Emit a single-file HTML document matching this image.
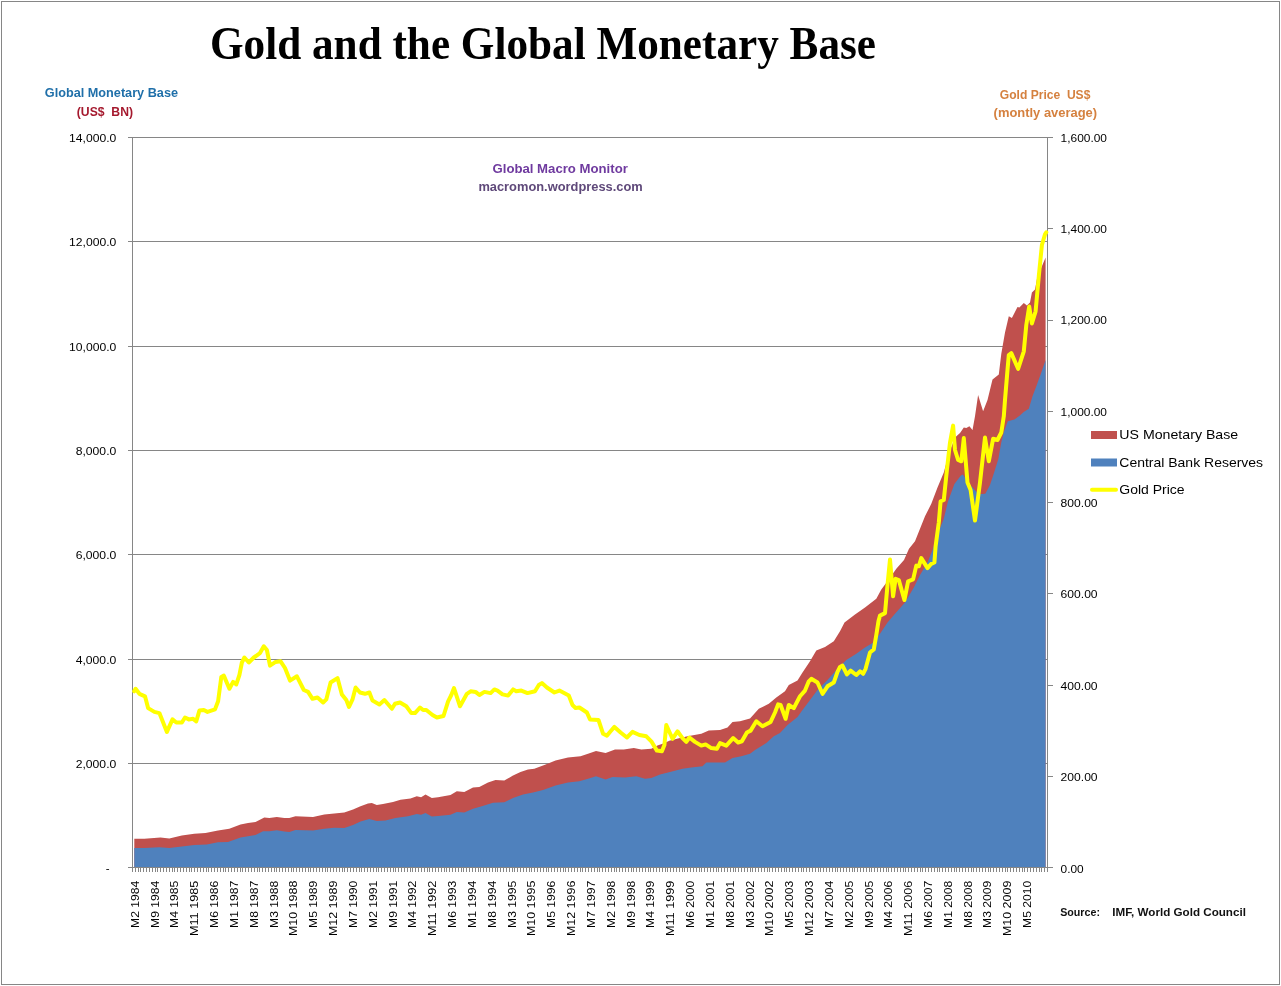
<!DOCTYPE html>
<html lang="en"><head><meta charset="utf-8"><title>Gold and the Global Monetary Base</title>
<style>
html,body{margin:0;padding:0;background:#fff;}
body{width:1281px;height:986px;overflow:hidden;position:relative;}
svg{position:absolute;left:0;top:0;display:block;}
text{font-family:"Liberation Sans",sans-serif;}
.t{font-family:"Liberation Serif",serif;font-weight:bold;}
.b{font-weight:bold;}
.ax{font-size:11.5px;}
.lg{font-size:13.5px;}
</style></head><body>
<svg width="1281" height="986" viewBox="0 0 1281 986">
<rect x="0" y="0" width="1281" height="986" fill="#fff"/>
<rect x="1.5" y="1.5" width="1278" height="983" fill="none" stroke="#868686" stroke-width="1"/>
<text class="t" x="210" y="59.2" font-size="45.5" textLength="666" lengthAdjust="spacingAndGlyphs">Gold and the Global Monetary Base</text>
<g stroke="#868686" stroke-width="1" shape-rendering="crispEdges">
<line x1="132.5" y1="137.5" x2="1047.5" y2="137.5"/>
<line x1="132.5" y1="241.5" x2="1047.5" y2="241.5"/>
<line x1="132.5" y1="346.5" x2="1047.5" y2="346.5"/>
<line x1="132.5" y1="450.5" x2="1047.5" y2="450.5"/>
<line x1="132.5" y1="554.5" x2="1047.5" y2="554.5"/>
<line x1="132.5" y1="659.5" x2="1047.5" y2="659.5"/>
<line x1="132.5" y1="763.5" x2="1047.5" y2="763.5"/>
</g>
<polygon fill="#C0504D" points="134.3,867.5 134.3,838.8 144.3,838.8 160.5,837.5 169.3,838.5 181.8,835.6 194.3,833.8 205.5,833.1 218.0,830.6 229.3,828.8 240.5,824.4 248.0,823.1 255.5,821.9 264.3,817.5 269.3,818.1 276.8,816.9 284.3,818.1 289.3,818.1 295.5,816.3 313.0,816.9 324.3,814.4 334.3,813.5 344.3,812.5 353.0,809.4 360.5,806.3 368.0,803.5 371.8,803.1 376.8,805.0 383.0,804.0 393.0,801.9 400.5,799.8 410.5,798.5 416.8,796.3 421.1,797.3 425.5,794.4 431.8,798.1 438.0,797.3 450.5,795.0 456.8,791.3 464.3,791.9 473.0,787.5 479.3,786.9 488.0,782.5 495.5,780.0 504.3,780.6 513.0,775.6 520.5,771.9 528.0,769.4 534.3,768.8 544.3,765.0 555.5,760.6 568.0,757.5 580.5,756.3 588.0,753.8 596.0,751.0 605.6,753.1 615.0,749.4 623.8,749.4 633.8,748.1 641.3,749.4 651.3,748.8 657.5,745.6 662.5,743.8 670.0,740.6 680.0,738.1 687.5,736.3 701.3,733.8 708.8,730.6 720.0,730.0 727.5,727.5 732.5,721.9 740.0,721.3 750.0,718.4 758.8,708.8 768.8,703.8 776.3,697.5 785.0,691.3 788.8,685.0 797.5,680.6 802.5,672.5 810.0,661.3 816.3,650.6 825.0,646.9 833.8,641.3 840.0,631.3 844.5,622.5 855.0,614.4 865.0,607.5 876.3,598.8 881.3,589.4 887.5,581.3 896.3,568.8 904.0,560.0 909.0,548.8 915.0,541.3 920.0,528.8 925.0,516.3 931.3,503.8 937.5,487.5 943.8,472.5 948.8,453.8 955.0,437.5 960.0,433.0 963.8,427.5 966.3,428.1 969.4,426.3 972.5,430.0 975.0,416.3 978.1,395.0 983.1,411.3 987.5,400.0 992.5,379.4 998.8,374.4 1001.3,353.8 1005.0,332.5 1008.8,316.3 1011.9,318.1 1017.5,306.9 1019.4,307.5 1023.8,303.1 1026.9,305.6 1030.0,302.5 1031.9,292.5 1035.0,289.4 1037.5,276.0 1041.9,266.3 1045.6,257.5 1045.6,867.5"/>
<polygon fill="#4F81BD" points="134.3,867.5 134.3,848.1 144.3,847.9 159.3,847.3 169.3,848.1 181.8,846.5 194.3,845.0 206.8,844.4 218.0,842.3 228.0,841.9 240.5,837.5 248.0,836.3 255.5,835.0 263.0,831.3 269.3,831.3 276.8,830.3 284.3,831.5 289.3,831.9 295.5,830.0 313.0,830.6 324.3,828.8 334.3,827.8 344.3,828.1 353.0,825.0 360.5,821.5 369.3,819.0 376.8,821.0 385.5,820.6 395.5,818.1 408.0,816.3 416.8,814.0 421.1,814.8 425.5,813.1 431.8,816.5 438.0,816.0 450.5,814.8 456.8,811.9 464.3,812.5 473.0,808.8 481.8,806.3 493.0,802.8 504.3,802.3 513.0,798.1 523.0,794.4 533.0,792.5 543.0,790.0 555.5,785.6 568.0,782.5 579.3,781.3 588.0,778.8 596.0,776.3 605.6,779.4 612.5,776.9 625.0,777.5 636.3,776.3 645.0,778.8 651.3,778.1 660.0,774.4 670.0,771.9 682.5,768.8 691.3,767.5 702.5,766.3 706.3,762.5 725.0,762.5 732.5,758.1 741.3,756.3 750.0,753.8 755.0,750.0 766.3,743.1 773.8,736.3 780.0,733.1 787.5,725.0 797.5,716.9 802.5,710.0 810.0,700.0 817.5,690.0 827.5,680.0 837.5,668.8 846.3,660.0 856.3,653.8 865.0,647.5 872.5,643.1 880.0,633.8 887.5,622.5 895.0,613.8 905.0,602.5 913.8,587.5 920.0,575.0 927.5,562.5 932.5,550.0 938.0,533.0 943.8,518.8 947.8,502.0 954.4,484.0 960.9,475.6 962.8,474.6 970.3,484.9 978.7,494.3 985.3,493.8 990.0,484.9 994.6,470.9 998.4,458.7 1001.2,442.8 1004.0,431.5 1007.8,421.2 1014.3,419.4 1019.9,415.6 1023.7,411.9 1028.8,408.8 1032.5,396.3 1036.3,386.3 1041.3,372.5 1045.6,360.0 1045.6,867.5"/>
<g stroke="#868686" stroke-width="1" shape-rendering="crispEdges">
<line x1="132.5" y1="137.5" x2="132.5" y2="867.5"/>
<line x1="1047.5" y1="137.5" x2="1047.5" y2="867.5"/>
<line x1="132.5" y1="867.5" x2="1047.5" y2="867.5"/>
<line x1="127.5" y1="137.5" x2="132.5" y2="137.5"/>
<line x1="127.5" y1="241.5" x2="132.5" y2="241.5"/>
<line x1="127.5" y1="346.5" x2="132.5" y2="346.5"/>
<line x1="127.5" y1="450.5" x2="132.5" y2="450.5"/>
<line x1="127.5" y1="554.5" x2="132.5" y2="554.5"/>
<line x1="127.5" y1="659.5" x2="132.5" y2="659.5"/>
<line x1="127.5" y1="763.5" x2="132.5" y2="763.5"/>
<line x1="127.5" y1="867.5" x2="132.5" y2="867.5"/>
<line x1="1047.5" y1="867.5" x2="1052.5" y2="867.5"/>
<line x1="1047.5" y1="776.5" x2="1052.5" y2="776.5"/>
<line x1="1047.5" y1="685.5" x2="1052.5" y2="685.5"/>
<line x1="1047.5" y1="593.5" x2="1052.5" y2="593.5"/>
<line x1="1047.5" y1="502.5" x2="1052.5" y2="502.5"/>
<line x1="1047.5" y1="411.5" x2="1052.5" y2="411.5"/>
<line x1="1047.5" y1="320.5" x2="1052.5" y2="320.5"/>
<line x1="1047.5" y1="228.5" x2="1052.5" y2="228.5"/>
<line x1="1047.5" y1="137.5" x2="1052.5" y2="137.5"/>
</g>
<path d="M132.5 868V872M135.5 868V872M138.5 868V872M140.5 868V872M143.5 868V872M146.5 868V872M149.5 868V872M152.5 868V872M155.5 868V872M157.5 868V872M160.5 868V872M163.5 868V872M166.5 868V872M169.5 868V872M172.5 868V872M174.5 868V872M177.5 868V872M180.5 868V872M183.5 868V872M186.5 868V872M189.5 868V872M191.5 868V872M194.5 868V872M197.5 868V872M200.5 868V872M203.5 868V872M206.5 868V872M208.5 868V872M211.5 868V872M214.5 868V872M217.5 868V872M220.5 868V872M223.5 868V872M225.5 868V872M228.5 868V872M231.5 868V872M234.5 868V872M237.5 868V872M240.5 868V872M242.5 868V872M245.5 868V872M248.5 868V872M251.5 868V872M254.5 868V872M257.5 868V872M259.5 868V872M262.5 868V872M265.5 868V872M268.5 868V872M271.5 868V872M274.5 868V872M276.5 868V872M279.5 868V872M282.5 868V872M285.5 868V872M288.5 868V872M291.5 868V872M293.5 868V872M296.5 868V872M299.5 868V872M302.5 868V872M305.5 868V872M308.5 868V872M310.5 868V872M313.5 868V872M316.5 868V872M319.5 868V872M322.5 868V872M325.5 868V872M327.5 868V872M330.5 868V872M333.5 868V872M336.5 868V872M339.5 868V872M342.5 868V872M344.5 868V872M347.5 868V872M350.5 868V872M353.5 868V872M356.5 868V872M359.5 868V872M361.5 868V872M364.5 868V872M367.5 868V872M370.5 868V872M373.5 868V872M376.5 868V872M378.5 868V872M381.5 868V872M384.5 868V872M387.5 868V872M390.5 868V872M393.5 868V872M395.5 868V872M398.5 868V872M401.5 868V872M404.5 868V872M407.5 868V872M410.5 868V872M412.5 868V872M415.5 868V872M418.5 868V872M421.5 868V872M424.5 868V872M427.5 868V872M429.5 868V872M432.5 868V872M435.5 868V872M438.5 868V872M441.5 868V872M444.5 868V872M446.5 868V872M449.5 868V872M452.5 868V872M455.5 868V872M458.5 868V872M461.5 868V872M463.5 868V872M466.5 868V872M469.5 868V872M472.5 868V872M475.5 868V872M478.5 868V872M480.5 868V872M483.5 868V872M486.5 868V872M489.5 868V872M492.5 868V872M495.5 868V872M497.5 868V872M500.5 868V872M503.5 868V872M506.5 868V872M509.5 868V872M512.5 868V872M514.5 868V872M517.5 868V872M520.5 868V872M523.5 868V872M526.5 868V872M529.5 868V872M531.5 868V872M534.5 868V872M537.5 868V872M540.5 868V872M543.5 868V872M546.5 868V872M548.5 868V872M551.5 868V872M554.5 868V872M557.5 868V872M560.5 868V872M563.5 868V872M565.5 868V872M568.5 868V872M571.5 868V872M574.5 868V872M577.5 868V872M580.5 868V872M582.5 868V872M585.5 868V872M588.5 868V872M591.5 868V872M594.5 868V872M597.5 868V872M599.5 868V872M602.5 868V872M605.5 868V872M608.5 868V872M611.5 868V872M614.5 868V872M616.5 868V872M619.5 868V872M622.5 868V872M625.5 868V872M628.5 868V872M631.5 868V872M633.5 868V872M636.5 868V872M639.5 868V872M642.5 868V872M645.5 868V872M648.5 868V872M650.5 868V872M653.5 868V872M656.5 868V872M659.5 868V872M662.5 868V872M665.5 868V872M667.5 868V872M670.5 868V872M673.5 868V872M676.5 868V872M679.5 868V872M682.5 868V872M684.5 868V872M687.5 868V872M690.5 868V872M693.5 868V872M696.5 868V872M699.5 868V872M701.5 868V872M704.5 868V872M707.5 868V872M710.5 868V872M713.5 868V872M716.5 868V872M718.5 868V872M721.5 868V872M724.5 868V872M727.5 868V872M730.5 868V872M733.5 868V872M735.5 868V872M738.5 868V872M741.5 868V872M744.5 868V872M747.5 868V872M750.5 868V872M752.5 868V872M755.5 868V872M758.5 868V872M761.5 868V872M764.5 868V872M767.5 868V872M769.5 868V872M772.5 868V872M775.5 868V872M778.5 868V872M781.5 868V872M784.5 868V872M786.5 868V872M789.5 868V872M792.5 868V872M795.5 868V872M798.5 868V872M801.5 868V872M803.5 868V872M806.5 868V872M809.5 868V872M812.5 868V872M815.5 868V872M818.5 868V872M820.5 868V872M823.5 868V872M826.5 868V872M829.5 868V872M832.5 868V872M835.5 868V872M837.5 868V872M840.5 868V872M843.5 868V872M846.5 868V872M849.5 868V872M852.5 868V872M854.5 868V872M857.5 868V872M860.5 868V872M863.5 868V872M866.5 868V872M869.5 868V872M871.5 868V872M874.5 868V872M877.5 868V872M880.5 868V872M883.5 868V872M886.5 868V872M888.5 868V872M891.5 868V872M894.5 868V872M897.5 868V872M900.5 868V872M903.5 868V872M905.5 868V872M908.5 868V872M911.5 868V872M914.5 868V872M917.5 868V872M920.5 868V872M922.5 868V872M925.5 868V872M928.5 868V872M931.5 868V872M934.5 868V872M937.5 868V872M939.5 868V872M942.5 868V872M945.5 868V872M948.5 868V872M951.5 868V872M954.5 868V872M956.5 868V872M959.5 868V872M962.5 868V872M965.5 868V872M968.5 868V872M971.5 868V872M973.5 868V872M976.5 868V872M979.5 868V872M982.5 868V872M985.5 868V872M988.5 868V872M990.5 868V872M993.5 868V872M996.5 868V872M999.5 868V872M1002.5 868V872M1005.5 868V872M1007.5 868V872M1010.5 868V872M1013.5 868V872M1016.5 868V872M1019.5 868V872M1022.5 868V872M1024.5 868V872M1027.5 868V872M1030.5 868V872M1033.5 868V872M1036.5 868V872M1039.5 868V872M1041.5 868V872M1044.5 868V872M1047.5 868V872" stroke="#868686" stroke-width="1" fill="none" shape-rendering="crispEdges"/>
<polyline fill="none" stroke="#FFFF00" stroke-width="4" stroke-linejoin="round" stroke-linecap="round" points="134.2,691.3 135.6,688.8 139.4,693.8 145.0,696.3 148.1,708.1 154.4,711.9 159.4,713.1 166.9,731.9 172.5,719.4 176.3,722.5 181.9,722.5 185.0,717.5 188.8,719.4 193.1,718.8 196.3,721.3 199.4,710.6 203.8,710.0 207.5,711.9 215.0,709.4 218.1,701.3 221.3,676.9 223.8,675.6 229.4,688.8 233.1,681.9 236.3,684.4 239.4,675.0 241.9,662.5 244.4,657.5 248.8,662.5 253.8,657.5 260.0,653.1 263.8,646.3 266.9,650.0 270.0,665.6 275.6,661.9 280.6,661.3 285.0,668.0 290.0,680.6 296.9,676.3 303.8,690.0 308.1,691.9 312.5,698.8 317.5,697.5 323.1,702.5 326.3,699.4 330.6,682.5 337.5,678.1 341.9,694.4 346.3,700.0 349.0,706.9 352.5,699.4 355.6,687.5 360.0,692.5 365.0,693.8 369.4,692.5 372.5,700.6 379.4,704.4 384.4,700.0 391.9,708.8 395.0,703.8 400.0,702.5 406.3,706.3 411.3,713.1 415.0,713.1 420.0,707.5 423.1,710.0 426.3,710.0 432.5,715.0 436.9,717.5 443.5,716.0 448.1,701.3 451.3,695.0 454.0,688.1 460.0,706.3 466.9,693.8 470.6,691.3 475.6,691.9 479.4,695.0 484.4,691.9 490.6,693.1 494.4,689.4 497.5,690.6 502.5,694.4 508.1,695.6 513.1,689.4 516.3,691.3 521.3,690.6 527.5,693.1 535.0,691.3 538.8,685.0 541.9,683.1 546.9,687.5 554.4,692.5 559.4,690.6 568.8,695.6 572.5,705.0 575.6,708.1 579.4,707.5 586.9,712.5 590.0,719.4 598.5,720.0 603.1,733.8 606.9,735.6 610.6,731.3 614.4,726.9 620.6,732.5 626.9,737.5 632.5,731.9 639.4,735.0 646.3,736.3 651.3,741.3 656.9,750.6 661.9,751.3 664.4,745.0 666.3,725.0 672.5,738.8 677.5,731.3 682.5,738.1 686.3,741.9 689.4,737.5 695.0,741.9 701.3,745.6 705.6,744.4 711.3,748.1 716.9,748.8 720.0,743.1 726.3,745.6 733.1,738.1 738.1,742.5 741.9,741.3 746.9,732.5 750.6,730.6 756.3,721.3 762.5,726.3 770.6,721.9 775.0,712.5 778.1,704.4 780.6,705.0 785.6,718.8 788.8,705.0 793.8,708.1 800.0,696.3 805.0,690.6 808.8,681.3 811.3,678.8 817.5,682.5 822.5,693.8 827.5,686.3 833.8,682.5 837.5,671.9 840.0,666.9 842.5,665.6 846.9,674.4 850.6,670.6 856.3,675.0 860.0,671.3 863.1,673.8 865.6,668.8 870.0,652.5 873.8,649.4 876.3,635.0 878.5,621.0 880.0,615.6 885.0,613.1 887.5,585.0 890.0,559.4 893.1,596.3 895.6,578.8 898.8,580.0 904.4,600.0 908.1,581.3 913.1,579.4 916.3,565.6 918.8,566.3 921.3,558.1 927.5,568.1 931.3,563.8 934.4,562.5 935.6,546.3 938.8,522.5 940.6,501.3 943.8,500.0 946.9,470.0 950.0,442.5 953.1,425.6 955.0,450.0 958.1,460.0 961.3,461.3 963.8,438.1 967.5,482.5 970.6,490.0 975.0,520.6 980.0,482.5 985.0,437.5 988.8,461.3 993.1,438.8 997.5,440.0 1001.3,432.5 1003.8,416.3 1005.0,400.0 1007.5,370.0 1008.8,355.0 1011.3,353.1 1018.1,368.8 1023.8,351.3 1026.3,325.0 1029.2,306.5 1031.9,323.5 1035.6,311.3 1038.8,276.3 1041.9,245.0 1045.0,234.4 1046.3,232.3"/>
<g class="ax" text-anchor="end">
<text x="116.3" y="141.8" textLength="47.2" lengthAdjust="spacingAndGlyphs">14,000.0</text>
<text x="116.3" y="245.8" textLength="47.2" lengthAdjust="spacingAndGlyphs">12,000.0</text>
<text x="116.3" y="350.8" textLength="47.2" lengthAdjust="spacingAndGlyphs">10,000.0</text>
<text x="116.3" y="454.8" textLength="40.6" lengthAdjust="spacingAndGlyphs">8,000.0</text>
<text x="116.3" y="558.8" textLength="40.6" lengthAdjust="spacingAndGlyphs">6,000.0</text>
<text x="116.3" y="663.8" textLength="40.6" lengthAdjust="spacingAndGlyphs">4,000.0</text>
<text x="116.3" y="767.8" textLength="40.6" lengthAdjust="spacingAndGlyphs">2,000.0</text>
<text x="109.5" y="871.8">-</text>
</g>
<g class="ax">
<text x="1060.6" y="872.5" textLength="23.1" lengthAdjust="spacingAndGlyphs">0.00</text>
<text x="1060.6" y="781.1" textLength="37.0" lengthAdjust="spacingAndGlyphs">200.00</text>
<text x="1060.6" y="689.8" textLength="37.0" lengthAdjust="spacingAndGlyphs">400.00</text>
<text x="1060.6" y="598.4" textLength="37.0" lengthAdjust="spacingAndGlyphs">600.00</text>
<text x="1060.6" y="507.0" textLength="37.0" lengthAdjust="spacingAndGlyphs">800.00</text>
<text x="1060.6" y="415.6" textLength="46.4" lengthAdjust="spacingAndGlyphs">1,000.00</text>
<text x="1060.6" y="324.2" textLength="46.4" lengthAdjust="spacingAndGlyphs">1,200.00</text>
<text x="1060.6" y="232.9" textLength="46.4" lengthAdjust="spacingAndGlyphs">1,400.00</text>
<text x="1060.6" y="141.5" textLength="46.4" lengthAdjust="spacingAndGlyphs">1,600.00</text>
</g>
<g class="ax" text-anchor="end">
<text transform="translate(138.80 880.7) rotate(-90)" textLength="47.2" lengthAdjust="spacingAndGlyphs">M2 1984</text>
<text transform="translate(158.63 880.7) rotate(-90)" textLength="47.2" lengthAdjust="spacingAndGlyphs">M9 1984</text>
<text transform="translate(178.46 880.7) rotate(-90)" textLength="47.2" lengthAdjust="spacingAndGlyphs">M4 1985</text>
<text transform="translate(198.29 880.7) rotate(-90)" textLength="55.4" lengthAdjust="spacingAndGlyphs">M11 1985</text>
<text transform="translate(218.12 880.7) rotate(-90)" textLength="47.2" lengthAdjust="spacingAndGlyphs">M6 1986</text>
<text transform="translate(237.95 880.7) rotate(-90)" textLength="47.2" lengthAdjust="spacingAndGlyphs">M1 1987</text>
<text transform="translate(257.78 880.7) rotate(-90)" textLength="47.2" lengthAdjust="spacingAndGlyphs">M8 1987</text>
<text transform="translate(277.61 880.7) rotate(-90)" textLength="47.2" lengthAdjust="spacingAndGlyphs">M3 1988</text>
<text transform="translate(297.44 880.7) rotate(-90)" textLength="55.4" lengthAdjust="spacingAndGlyphs">M10 1988</text>
<text transform="translate(317.27 880.7) rotate(-90)" textLength="47.2" lengthAdjust="spacingAndGlyphs">M5 1989</text>
<text transform="translate(337.10 880.7) rotate(-90)" textLength="55.4" lengthAdjust="spacingAndGlyphs">M12 1989</text>
<text transform="translate(356.93 880.7) rotate(-90)" textLength="47.2" lengthAdjust="spacingAndGlyphs">M7 1990</text>
<text transform="translate(376.76 880.7) rotate(-90)" textLength="47.2" lengthAdjust="spacingAndGlyphs">M2 1991</text>
<text transform="translate(396.59 880.7) rotate(-90)" textLength="47.2" lengthAdjust="spacingAndGlyphs">M9 1991</text>
<text transform="translate(416.42 880.7) rotate(-90)" textLength="47.2" lengthAdjust="spacingAndGlyphs">M4 1992</text>
<text transform="translate(436.25 880.7) rotate(-90)" textLength="55.4" lengthAdjust="spacingAndGlyphs">M11 1992</text>
<text transform="translate(456.08 880.7) rotate(-90)" textLength="47.2" lengthAdjust="spacingAndGlyphs">M6 1993</text>
<text transform="translate(475.91 880.7) rotate(-90)" textLength="47.2" lengthAdjust="spacingAndGlyphs">M1 1994</text>
<text transform="translate(495.74 880.7) rotate(-90)" textLength="47.2" lengthAdjust="spacingAndGlyphs">M8 1994</text>
<text transform="translate(515.57 880.7) rotate(-90)" textLength="47.2" lengthAdjust="spacingAndGlyphs">M3 1995</text>
<text transform="translate(535.40 880.7) rotate(-90)" textLength="55.4" lengthAdjust="spacingAndGlyphs">M10 1995</text>
<text transform="translate(555.23 880.7) rotate(-90)" textLength="47.2" lengthAdjust="spacingAndGlyphs">M5 1996</text>
<text transform="translate(575.06 880.7) rotate(-90)" textLength="55.4" lengthAdjust="spacingAndGlyphs">M12 1996</text>
<text transform="translate(594.89 880.7) rotate(-90)" textLength="47.2" lengthAdjust="spacingAndGlyphs">M7 1997</text>
<text transform="translate(614.72 880.7) rotate(-90)" textLength="47.2" lengthAdjust="spacingAndGlyphs">M2 1998</text>
<text transform="translate(634.55 880.7) rotate(-90)" textLength="47.2" lengthAdjust="spacingAndGlyphs">M9 1998</text>
<text transform="translate(654.38 880.7) rotate(-90)" textLength="47.2" lengthAdjust="spacingAndGlyphs">M4 1999</text>
<text transform="translate(674.21 880.7) rotate(-90)" textLength="55.4" lengthAdjust="spacingAndGlyphs">M11 1999</text>
<text transform="translate(694.04 880.7) rotate(-90)" textLength="47.2" lengthAdjust="spacingAndGlyphs">M6 2000</text>
<text transform="translate(713.87 880.7) rotate(-90)" textLength="47.2" lengthAdjust="spacingAndGlyphs">M1 2001</text>
<text transform="translate(733.70 880.7) rotate(-90)" textLength="47.2" lengthAdjust="spacingAndGlyphs">M8 2001</text>
<text transform="translate(753.53 880.7) rotate(-90)" textLength="47.2" lengthAdjust="spacingAndGlyphs">M3 2002</text>
<text transform="translate(773.36 880.7) rotate(-90)" textLength="55.4" lengthAdjust="spacingAndGlyphs">M10 2002</text>
<text transform="translate(793.19 880.7) rotate(-90)" textLength="47.2" lengthAdjust="spacingAndGlyphs">M5 2003</text>
<text transform="translate(813.02 880.7) rotate(-90)" textLength="55.4" lengthAdjust="spacingAndGlyphs">M12 2003</text>
<text transform="translate(832.85 880.7) rotate(-90)" textLength="47.2" lengthAdjust="spacingAndGlyphs">M7 2004</text>
<text transform="translate(852.68 880.7) rotate(-90)" textLength="47.2" lengthAdjust="spacingAndGlyphs">M2 2005</text>
<text transform="translate(872.51 880.7) rotate(-90)" textLength="47.2" lengthAdjust="spacingAndGlyphs">M9 2005</text>
<text transform="translate(892.34 880.7) rotate(-90)" textLength="47.2" lengthAdjust="spacingAndGlyphs">M4 2006</text>
<text transform="translate(912.17 880.7) rotate(-90)" textLength="55.4" lengthAdjust="spacingAndGlyphs">M11 2006</text>
<text transform="translate(932.00 880.7) rotate(-90)" textLength="47.2" lengthAdjust="spacingAndGlyphs">M6 2007</text>
<text transform="translate(951.83 880.7) rotate(-90)" textLength="47.2" lengthAdjust="spacingAndGlyphs">M1 2008</text>
<text transform="translate(971.66 880.7) rotate(-90)" textLength="47.2" lengthAdjust="spacingAndGlyphs">M8 2008</text>
<text transform="translate(991.49 880.7) rotate(-90)" textLength="47.2" lengthAdjust="spacingAndGlyphs">M3 2009</text>
<text transform="translate(1011.32 880.7) rotate(-90)" textLength="55.4" lengthAdjust="spacingAndGlyphs">M10 2009</text>
<text transform="translate(1031.15 880.7) rotate(-90)" textLength="47.2" lengthAdjust="spacingAndGlyphs">M5 2010</text>
</g>
<text class="b" x="44.8" y="97.3" font-size="12.3" fill="#1F6FA9" textLength="133.2" lengthAdjust="spacingAndGlyphs">Global Monetary Base</text>
<text class="b" x="76.8" y="115.6" font-size="12.3" fill="#A5192E" textLength="56.2" lengthAdjust="spacingAndGlyphs" xml:space="preserve" style="white-space:pre">(US$  BN)</text>
<text class="b" x="999.8" y="99.0" font-size="12.3" fill="#D5813F" textLength="90.6" lengthAdjust="spacingAndGlyphs" xml:space="preserve" style="white-space:pre">Gold Price  US$</text>
<text class="b" x="993.6" y="117.0" font-size="12.3" fill="#D5813F" textLength="103.5" lengthAdjust="spacingAndGlyphs">(montly average)</text>
<text class="b" x="492.5" y="172.9" font-size="12.3" fill="#6F3A9F" textLength="135.3" lengthAdjust="spacingAndGlyphs">Global Macro Monitor</text>
<text class="b" x="478.4" y="190.7" font-size="12.3" fill="#5F497A" textLength="164.3" lengthAdjust="spacingAndGlyphs">macromon.wordpress.com</text>
<text class="b" x="1060.2" y="916" font-size="11.5" fill="#111" textLength="39.8" lengthAdjust="spacingAndGlyphs">Source:</text>
<text class="b" x="1112.3" y="916" font-size="11.5" fill="#111" textLength="133.6" lengthAdjust="spacingAndGlyphs">IMF, World Gold Council</text>
<rect x="1091" y="431" width="26" height="8" fill="#C0504D"/>
<rect x="1091" y="458.5" width="26" height="8" fill="#4F81BD"/>
<line x1="1092" y1="489.7" x2="1116" y2="489.7" stroke="#FFFF00" stroke-width="4" stroke-linecap="round"/>
<text class="lg" x="1119.3" y="438.8" textLength="118.9" lengthAdjust="spacingAndGlyphs">US Monetary Base</text>
<text class="lg" x="1119.3" y="466.5" textLength="143.8" lengthAdjust="spacingAndGlyphs">Central Bank Reserves</text>
<text class="lg" x="1119.3" y="493.8" textLength="65.3" lengthAdjust="spacingAndGlyphs">Gold Price</text>
</svg></body></html>
